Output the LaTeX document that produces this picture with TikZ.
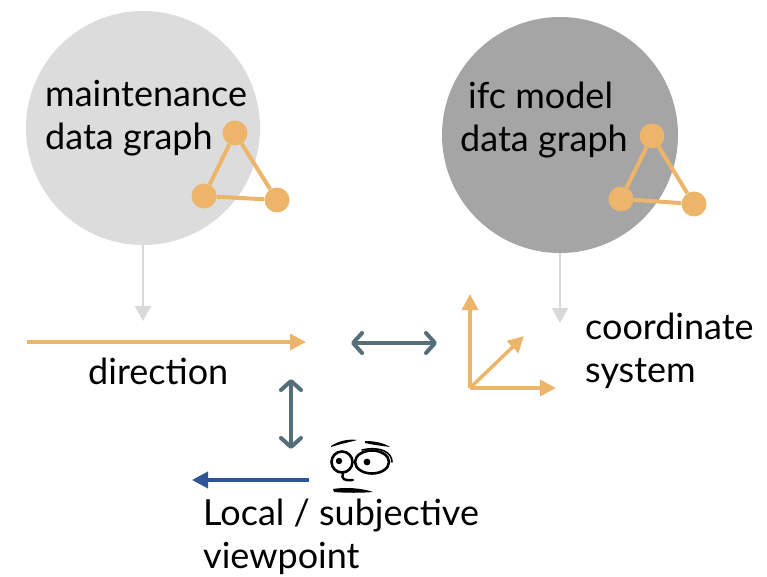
\documentclass[tikz,border=0pt]{standalone}
\usepackage{fontspec}
\setmainfont{Lato}
\usetikzlibrary{arrows.meta}
\definecolor{lightdisk}{HTML}{DCDCDC}
\definecolor{darkdisk}{HTML}{A5A5A5}
\definecolor{graphorange}{HTML}{EDB56A}
\definecolor{linkslate}{HTML}{546E7A}
\definecolor{viewblue}{HTML}{2F5597}
\definecolor{feedgray}{HTML}{D9D9D9}
\tikzset{
  label/.style={font=\fontsize{36}{43}\selectfont, align=left, inner sep=0pt, anchor=base west},
  gnode/.style={circle, fill=graphorange, minimum size=25pt, inner sep=0pt},
  gedge/.style={draw=graphorange, line width=4pt},
  feed/.style={draw=feedgray, line width=2.5pt, -{Triangle[length=15pt,width=16pt]}},
  axis/.style={draw=graphorange, line width=3.5pt, -{Triangle[length=16pt,width=16pt]}},
  twoway/.style={draw=linkslate, line width=4pt, line cap=round, {Straight Barb[length=9pt,width=20pt,line cap=round,line join=round]}-{Straight Barb[length=9pt,width=20pt,line cap=round,line join=round]}},
}
\begin{document}
\begin{tikzpicture}[x=1pt,y=-1pt]
\useasboundingbox (0,0) rectangle (767,577);

% data graph disks
\node[circle, fill=lightdisk, minimum size=234pt, inner sep=0pt] (maint) at (143,128) {};
\node[circle, fill=darkdisk, minimum size=236pt, inner sep=0pt] (ifc) at (560,135) {};

% labels are anchored at the baseline of their last line
\node[label] (mtext) at (45,150) {maintenance\\data graph};
\node[label] (itext) at (460,152) {\hspace{8pt}ifc model\\data graph};

% small graph icons
\node[gnode] (ma) at (235,133) {};
\node[gnode] (mb) at (204,196) {};
\node[gnode] (mc) at (277,200) {};
\draw[gedge] (ma) -- (mb) -- (mc) -- (ma);

\node[gnode] (ia) at (652,136) {};
\node[gnode] (ib) at (621,199) {};
\node[gnode] (ic) at (694,204) {};
\draw[gedge] (ia) -- (ib) -- (ic) -- (ia);

% feeds from the disks
\coordinate (mfoot) at (143,321);
\coordinate (ifoot) at (560,323);
\draw[feed] (maint.south) -- (mfoot);
\draw[feed] (ifc.south) -- (ifoot);

% direction
\coordinate (dstart) at (27,342);
\coordinate (dend) at (306,342);
\draw[draw=graphorange, line width=3.5pt, -{Triangle[length=16pt,width=16pt]}] (dstart) -- (dend);
\node[label] (dtext) at (88,384) {direction};

% coordinate system
\coordinate (o) at (470,388);
\coordinate (ox) at (556,388);
\coordinate (oy) at (470,294);
\coordinate (oz) at (524,336);
\draw[axis] (o) -- (oy);
\draw[axis] (o) -- (ox);
\draw[axis] (o) -- (oz);
\node[label] (ctext) at (585,382) {coordinate\\system};

% links
\coordinate (hl) at (351,343);
\coordinate (hr) at (437,343);
\draw[twoway] (hl) -- (hr);
\coordinate (vt) at (291,379);
\coordinate (vb) at (291,449);
\draw[twoway] (vt) -- (vb);

% viewpoint
\coordinate (vstart) at (309,480);
\coordinate (vend) at (192,480);
\draw[draw=viewblue, line width=3.5pt, -{Triangle[length=16pt,width=16pt]}] (vstart) -- (vend);
\node[label] (vtext) at (203,568) {Local / subjective\\viewpoint};

% face
\begin{scope}[line cap=round]
  \fill (331,446) .. controls (340,440) and (350,439) .. (357,440)
        .. controls (350,442) and (340,444) .. (331,447) -- cycle;
  \fill (365,441) .. controls (375,441) and (384,443) .. (390,447)
        .. controls (383,446) and (374,445) .. (365,443) -- cycle;
  \draw[line width=2.6pt] (342,462) circle (10.5);
  \fill (339,461) circle (3.2);
  \draw[line width=2.6pt] (372,462) ellipse (17 and 11.5);
  \fill (367,462) circle (3.4);
  \draw[line width=1.6pt] (362,450) .. controls (380,446) and (392,452) .. (392,462);
  \draw[line width=2.4pt] (343,473) .. controls (341,479) and (344,481) .. (353,480);
  \fill (333,489) .. controls (345,487) and (362,488) .. (373,492)
        .. controls (362,493) and (345,493) .. (334,492) -- cycle;
\end{scope}
\end{tikzpicture}
\end{document}
